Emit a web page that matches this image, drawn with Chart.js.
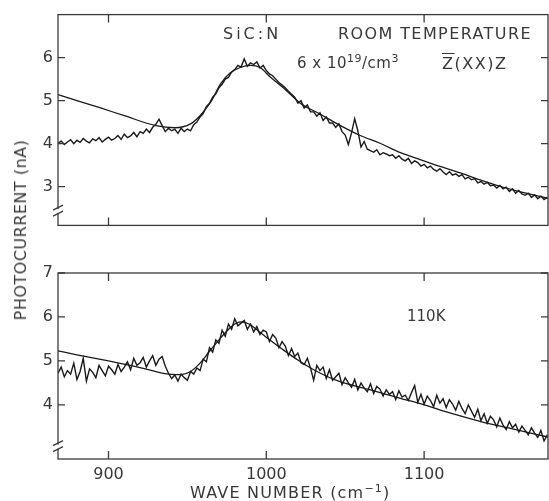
<!DOCTYPE html>
<html>
<head>
<meta charset="utf-8">
<script src="https://cdn.jsdelivr.net/npm/chart.js@4.4.0/dist/chart.umd.min.js"></script>
<style>
    html, body { margin: 0; padding: 0; background: #fff; }
    #lienzo { position: relative; width: 549px; height: 501px; overflow: hidden;
              font-family: "DejaVu Sans", sans-serif; color: #383838; }
    #lienzo canvas { position: absolute; left: 0; }
    .txt { position: absolute; white-space: nowrap; font-size: 16px; line-height: 1; }
    .txt sup { font-size: 11px; vertical-align: 6px; line-height: 0; }
    .barra { text-decoration: overline; }
</style>
</head>
<body>
<div id="lienzo">
    <canvas id="panelSup" width="549" height="240" style="top:0;width:549px;height:240px"></canvas>
    <canvas id="panelInf" width="549" height="261" style="top:240px;width:549px;height:261px"></canvas>

    <div class="txt" style="left:223px;top:26px;letter-spacing:3px">SiC:N</div>
    <div class="txt" style="left:338px;top:26px;letter-spacing:1.4px">ROOM TEMPERATURE</div>
    <div class="txt" style="left:297px;top:56px;font-size:15px;letter-spacing:0.5px">6 x 10<sup>19</sup>/cm<sup>3</sup></div>
    <div class="txt" style="left:442px;top:56px;letter-spacing:1.5px"><span class="barra">Z</span>(XX)Z</div>
    <div class="txt" style="left:407px;top:309px;font-size:15px">110K</div>
    <div class="txt" style="left:190px;top:485px;letter-spacing:1.2px">WAVE NUMBER (cm<sup>−1</sup>)</div>
    <div class="txt" style="left:21px;top:230px;letter-spacing:0.5px;transform:translate(-50%,-50%) rotate(-90deg)">PHOTOCURRENT (nA)</div>
</div>

<script>
// ============================================================
//  Fotocorriente SiC:N — dos paneles (ambiente arriba, 110 K abajo)
//  Traza medida (ruidosa) + curva de ajuste, eje x compartido.
// ============================================================

const X_MIN = 868;
const X_MAX = 1178.5;
const ticksX = [900, 1000, 1100];

const numerosOnda = [
    868, 870, 872, 874, 876, 878,
    880, 882, 884, 886, 888, 890, 892, 894, 896, 898,
    900, 902, 904, 906, 908, 910, 912, 914, 916, 918,
    920, 922, 924, 926, 928, 930, 932, 934, 936, 938,
    940, 942, 944, 946, 948, 950, 952, 954, 956, 958,
    960, 962, 964, 966, 968, 970, 972, 974, 976, 978,
    980, 982, 984, 986, 988, 990, 992, 994, 996, 998,
    1000, 1002, 1004, 1006, 1008, 1010, 1012, 1014, 1016, 1018,
    1020, 1022, 1024, 1026, 1028, 1030, 1032, 1034, 1036, 1038,
    1040, 1042, 1044, 1046, 1048, 1050, 1052, 1054, 1056, 1058,
    1060, 1062, 1064, 1066, 1068, 1070, 1072, 1074, 1076, 1078,
    1080, 1082, 1084, 1086, 1088, 1090, 1092, 1094, 1096, 1098,
    1100, 1102, 1104, 1106, 1108, 1110, 1112, 1114, 1116, 1118,
    1120, 1122, 1124, 1126, 1128, 1130, 1132, 1134, 1136, 1138,
    1140, 1142, 1144, 1146, 1148, 1150, 1152, 1154, 1156, 1158,
    1160, 1162, 1164, 1166, 1168, 1170, 1172, 1174, 1176, 1178,
];

// Temperatura ambiente (panel superior)
const medidoAmbiente = [
    4.00, 4.06, 3.98, 4.04, 4.09, 4.00,
    4.08, 4.03, 4.12, 4.06, 4.02, 4.11, 4.07, 4.14, 4.04, 4.10,
    4.15, 4.08, 4.12, 4.19, 4.10, 4.22, 4.14, 4.18, 4.26, 4.16,
    4.28, 4.24, 4.34, 4.26, 4.38, 4.45, 4.57, 4.42, 4.28, 4.36,
    4.30, 4.34, 4.24, 4.36, 4.28, 4.34, 4.30, 4.44, 4.50, 4.62,
    4.70, 4.86, 4.94, 5.08, 5.16, 5.30, 5.38, 5.50, 5.54, 5.66,
    5.72, 5.82, 5.78, 5.97, 5.80, 5.88, 5.84, 5.90, 5.76, 5.82,
    5.70, 5.62, 5.58, 5.50, 5.42, 5.36, 5.30, 5.22, 5.15, 5.08,
    4.94, 5.00, 4.83, 4.90, 4.74, 4.74, 4.64, 4.72, 4.54, 4.62,
    4.48, 4.48, 4.38, 4.46, 4.28, 4.20, 3.98, 4.25, 4.58, 4.30,
    3.92, 4.05, 3.87, 3.84, 3.80, 3.86, 3.74, 3.79, 3.76, 3.72,
    3.74, 3.66, 3.72, 3.64, 3.60, 3.66, 3.54, 3.60, 3.56, 3.48,
    3.52, 3.44, 3.48, 3.40, 3.36, 3.42, 3.34, 3.28, 3.35, 3.27,
    3.30, 3.24, 3.28, 3.18, 3.22, 3.16, 3.19, 3.09, 3.12, 3.06,
    3.10, 3.02, 3.04, 2.97, 3.03, 2.95, 2.99, 2.89, 2.95, 2.85,
    2.91, 2.83, 2.80, 2.85, 2.75, 2.81, 2.72, 2.78, 2.70, 2.75,
];
const ajusteAmbienteX = [868, 880, 895, 910, 930, 942, 952, 958, 965, 971, 977, 983.5, 990, 996,
    1002.5, 1012, 1021.5, 1034, 1047, 1059.5, 1072, 1085, 1097.5, 1110, 1123, 1135.4, 1148, 1161, 1178.5];
const ajusteAmbienteY = [5.14, 5.00, 4.83, 4.65, 4.42, 4.37, 4.46, 4.65, 4.98, 5.39, 5.64, 5.77, 5.82, 5.77,
    5.55, 5.26, 4.94, 4.69, 4.42, 4.19, 4.01, 3.79, 3.63, 3.47, 3.32, 3.16, 3.01, 2.88, 2.73];

// 110 K (panel inferior)
const medido110K = [
    4.72, 4.86, 4.64, 4.78, 4.70, 4.95,
    4.58, 4.76, 5.06, 4.54, 4.82, 4.74, 4.62, 4.90, 4.78, 4.66,
    4.88, 4.80, 4.70, 4.92, 4.76, 4.86, 4.98, 4.80, 5.06, 4.90,
    4.96, 5.08, 4.86, 5.00, 5.12, 4.90, 5.04, 5.10, 4.88, 4.72,
    4.60, 4.68, 4.54, 4.70, 4.62, 4.56, 4.76, 4.70, 4.84, 4.78,
    5.04, 4.98, 5.30, 5.20, 5.48, 5.40, 5.70, 5.56, 5.84, 5.72,
    5.96, 5.80, 5.86, 5.92, 5.72, 5.84, 5.66, 5.78, 5.60, 5.70,
    5.66, 5.44, 5.60, 5.52, 5.30, 5.44, 5.34, 5.12, 5.28, 5.10,
    5.18, 4.96, 4.92, 5.06, 4.84, 4.56, 4.90, 4.78, 4.86, 4.60,
    4.80, 4.56, 4.64, 4.72, 4.46, 4.62, 4.50, 4.40, 4.58, 4.34,
    4.50, 4.38, 4.30, 4.48, 4.26, 4.42, 4.36, 4.20, 4.34, 4.24,
    4.30, 4.12, 4.32, 4.18, 4.22, 4.10, 4.28, 4.44, 4.06, 4.24,
    4.02, 4.20, 4.10, 3.96, 4.22, 4.04, 4.14, 3.94, 4.12, 4.02,
    3.88, 4.08, 3.92, 3.80, 4.00, 3.86, 3.72, 3.90, 3.64, 3.80,
    3.58, 3.74, 3.66, 3.50, 3.70, 3.54, 3.44, 3.62, 3.48, 3.56,
    3.38, 3.52, 3.42, 3.32, 3.48, 3.36, 3.26, 3.42, 3.18, 3.32,
];
const ajuste110KX = [868, 880, 900, 920, 938, 946, 952, 958, 964, 970, 975, 980, 984, 989, 995,
    1002, 1010, 1020, 1030, 1045, 1066, 1085, 1100, 1118, 1137, 1158, 1178.5];
const ajuste110KY = [5.23, 5.14, 5.00, 4.85, 4.70, 4.69, 4.76, 4.95, 5.22, 5.48, 5.68, 5.84, 5.89, 5.84, 5.68,
    5.48, 5.27, 5.02, 4.80, 4.55, 4.34, 4.15, 4.00, 3.80, 3.61, 3.44, 3.27];

const ticksYSup = [3, 4, 5, 6];
const ticksYInf = [4, 5, 6, 7];

const FUENTE = { family: 'DejaVu Sans', size: 16 };
const TINTA = '#1a1a1a';

function puntos(xs, ys) {
    return xs.map((x, i) => ({ x, y: ys[i] }));
}

// Marco completo, marcas hacia adentro y el corte "//" del eje izquierdo
const marcoPlugin = {
    id: 'marco',
    afterDraw(chart, args, opts) {
        const { ctx, chartArea: a, scales } = chart;
        ctx.save();
        ctx.strokeStyle = '#3a3a3a';
        ctx.lineWidth = 1.3;
        ctx.strokeRect(a.left, a.top, a.right - a.left, a.bottom - a.top);

        ctx.beginPath();
        scales.x.ticks.forEach(t => {
            const x = scales.x.getPixelForValue(t.value);
            ctx.moveTo(x, a.top);    ctx.lineTo(x, a.top + 8);
            ctx.moveTo(x, a.bottom); ctx.lineTo(x, a.bottom - 8);
        });
        scales.y.ticks.forEach(t => {
            const y = scales.y.getPixelForValue(t.value);
            ctx.moveTo(a.left, y);  ctx.lineTo(a.left + 7, y);
            ctx.moveTo(a.right, y); ctx.lineTo(a.right - 7, y);
        });
        ctx.stroke();

        const yc = scales.y.getPixelForValue(opts.corte);
        ctx.fillStyle = '#fff';
        ctx.fillRect(a.left - 2, yc - 2, 4, 4);
        ctx.beginPath();
        ctx.moveTo(a.left - 5, yc - 1); ctx.lineTo(a.left + 5, yc - 6);
        ctx.moveTo(a.left - 5, yc + 5); ctx.lineTo(a.left + 5, yc);
        ctx.stroke();
        ctx.restore();
    },
};

function crearPanel(canvasId, cfg) {
    const el = document.getElementById(canvasId);
    return new Chart(el.getContext('2d'), {
        type: 'line',
        data: {
            datasets: [
                {
                    label: 'Medido',
                    data: puntos(numerosOnda, cfg.medido),
                    borderColor: TINTA,
                    borderWidth: 1.4,
                    pointRadius: 0,
                    tension: 0,
                },
                {
                    label: 'Ajuste',
                    data: puntos(cfg.ajusteX, cfg.ajusteY),
                    borderColor: TINTA,
                    borderWidth: 1.3,
                    pointRadius: 0,
                    cubicInterpolationMode: 'monotone',
                },
            ],
        },
        options: {
            responsive: false,
            animation: false,
            events: [],
            layout: { padding: cfg.padding },
            plugins: {
                legend: { display: false },
                tooltip: { enabled: false },
                marco: { corte: cfg.corte },
            },
            scales: {
                x: {
                    type: 'linear',
                    min: X_MIN,
                    max: X_MAX,
                    grid: { display: false, drawTicks: false },
                    border: { display: false },
                    ticks: {
                        display: cfg.etiquetasX,
                        font: FUENTE,
                        color: '#383838',
                        padding: 6,
                        maxRotation: 0,
                        callback: v => String(v),
                    },
                    afterBuildTicks: s => { s.ticks = ticksX.map(v => ({ value: v })); },
                    afterFit: s => { s.height = cfg.altoX; },
                },
                y: {
                    min: cfg.yMin,
                    max: cfg.yMax,
                    grid: { display: false, drawTicks: false },
                    border: { display: false },
                    ticks: {
                        font: FUENTE,
                        color: '#383838',
                        padding: 5,
                        callback: v => String(v),
                    },
                    afterBuildTicks: s => { s.ticks = cfg.ticksY.map(v => ({ value: v })); },
                    afterFit: s => { s.width = 58; },
                },
            },
        },
        plugins: [marcoPlugin],
    });
}

crearPanel('panelSup', {
    medido: medidoAmbiente,
    ajusteX: ajusteAmbienteX,
    ajusteY: ajusteAmbienteY,
    yMin: 2.1,
    yMax: 7.0,
    ticksY: ticksYSup,
    corte: 2.43,
    etiquetasX: false,
    altoX: 12,
    padding: { top: 10, right: 1, left: 0, bottom: 0 },
});

crearPanel('panelInf', {
    medido: medido110K,
    ajusteX: ajuste110KX,
    ajusteY: ajuste110KY,
    yMin: 2.77,
    yMax: 7.0,
    ticksY: ticksYInf,
    corte: 3.05,
    etiquetasX: true,
    altoX: 42,
    padding: { top: 33, right: 1, left: 0, bottom: 0 },
});
</script>
</body>
</html>
